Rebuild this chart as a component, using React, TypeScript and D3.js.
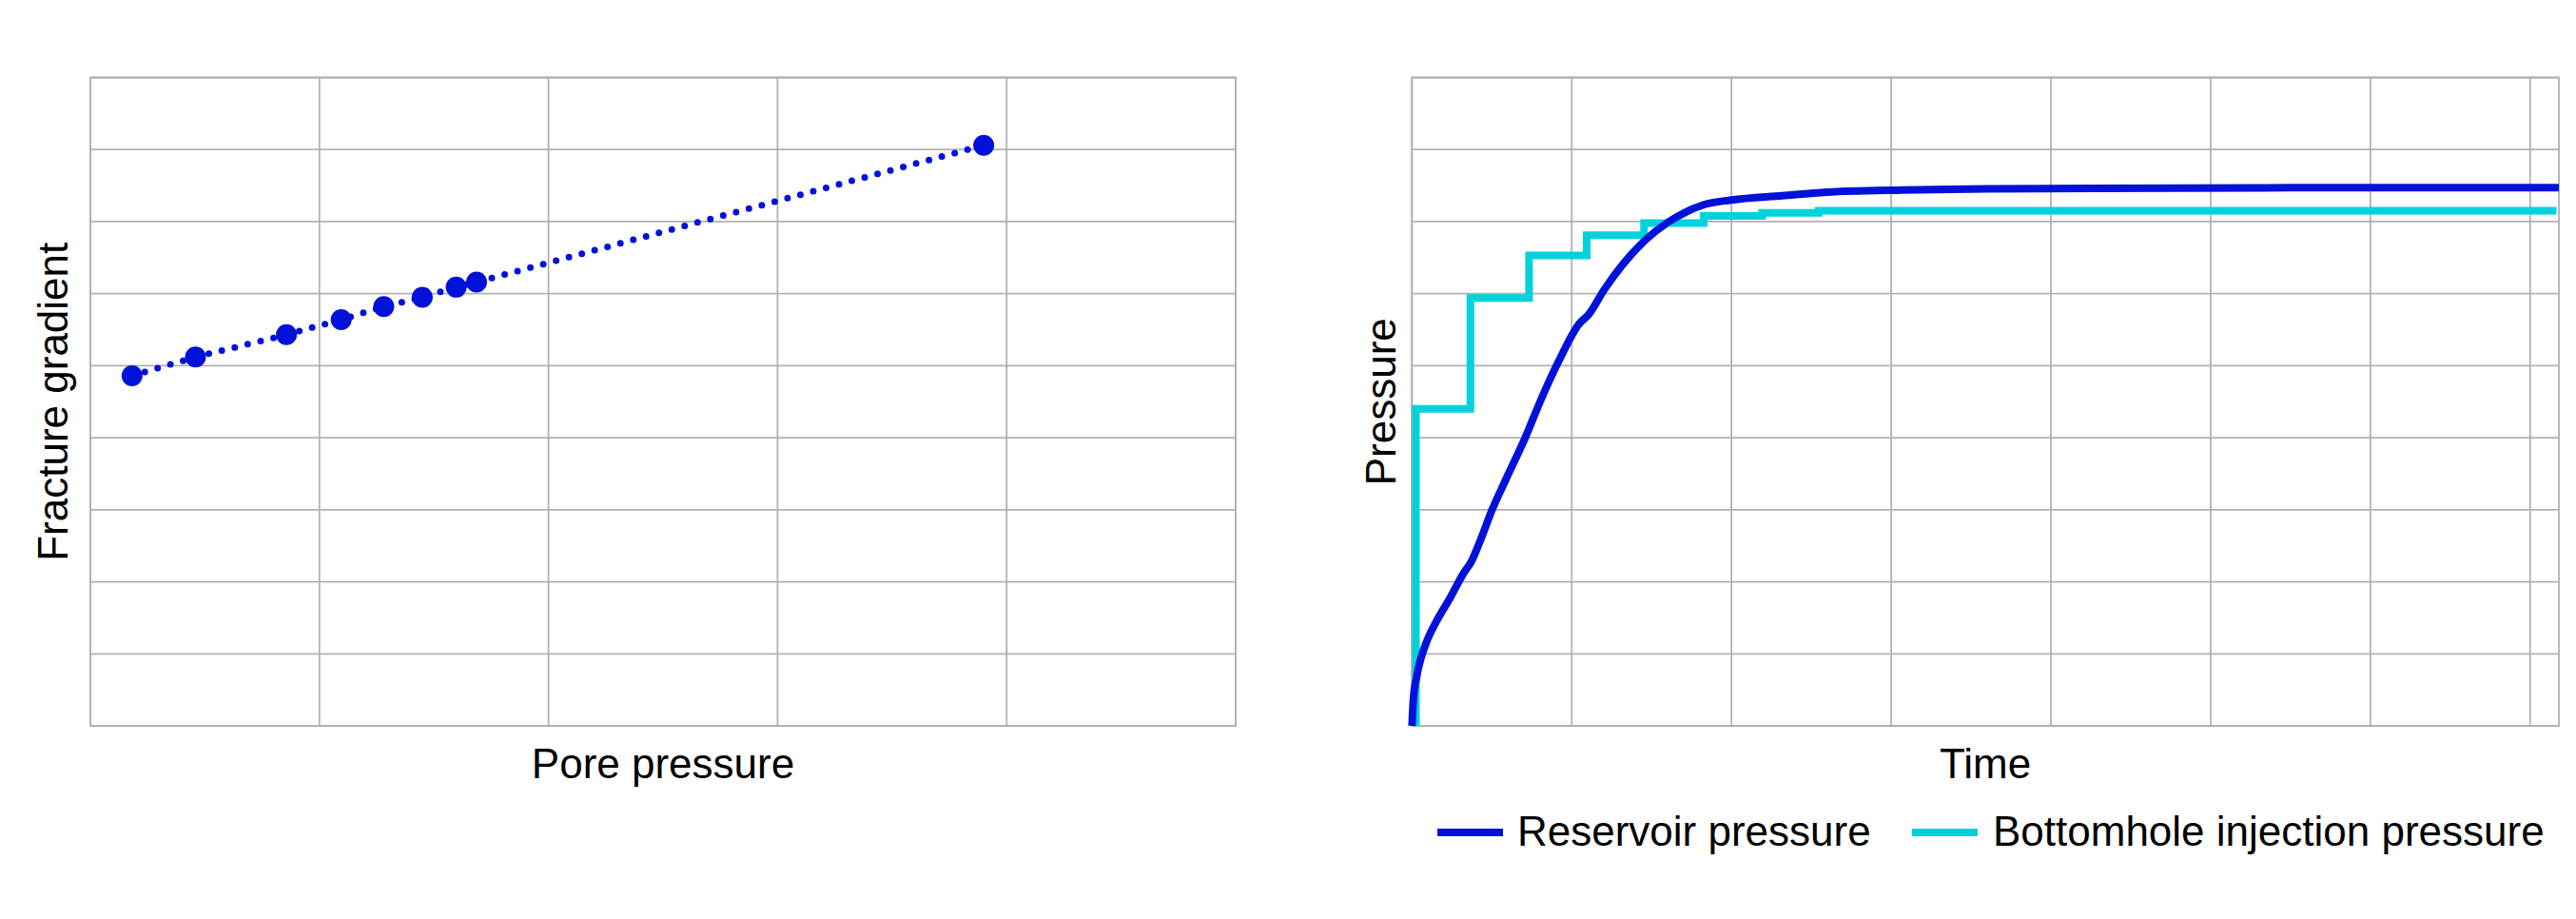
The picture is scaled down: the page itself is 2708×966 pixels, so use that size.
import React from 'react';
import * as d3 from 'd3';

// Left panel: fracture gradient vs pore pressure (arbitrary units)
const porePressure = [0.182, 0.459, 0.856, 1.095, 1.281, 1.449, 1.597, 1.686, 3.9];
const fractureGradient = [4.86, 5.12, 5.43, 5.64, 5.82, 5.95, 6.09, 6.16, 8.06];

// Right panel: reservoir pressure over time
const reservoirTime = [
    0, 0.01, 0.025, 0.054, 0.094, 0.153, 0.232, 0.332, 0.367, 0.431, 0.5, 0.59, 0.709, 0.808,
    0.927, 1.046, 1.106, 1.205, 1.325, 1.464, 1.602, 1.721, 1.821, 1.999, 2.317, 2.595, 3.07,
    3.6, 4.26, 5.5, 7.18,
];
const reservoirPressure = [
    0, 0.4, 0.63, 0.92, 1.18, 1.45, 1.75, 2.15, 2.26, 2.59, 2.99, 3.43, 4.0, 4.53, 5.1, 5.58,
    5.71, 6.06, 6.42, 6.75, 6.99, 7.14, 7.23, 7.3, 7.36, 7.41, 7.44, 7.455, 7.46, 7.47, 7.47,
];

// Bottomhole injection pressure (step-wise)
const injectionTime = [0.025, 0.025, 0.366, 0.733, 1.094, 1.453, 1.827, 2.192, 2.546, 7.165];
const injectionPressure = [0, 4.4, 5.94, 6.53, 6.81, 6.98, 7.08, 7.12, 7.15, 7.15];

const yGridValues = [0, 1, 2, 3, 4, 5, 6, 7, 8, 9];
const leftXGridValues = [0, 1, 2, 3, 4, 5];
const rightXGridValues = [0, 1, 2, 3, 4, 5, 6, 7];

const legendItems = [
    { label: 'Reservoir pressure', color: '#0012d9' },
    { label: 'Bottomhole injection pressure', color: '#00d2dc' },
];

const W = 2708;
const H = 966;
const TOP = 81.5;
const BOTTOM = 763;
const GRID = '#b1b1b1';
const BLUE = '#0012d9';
const CYAN = '#00d2dc';
const FONT = '"Liberation Sans", Arial, sans-serif';

export default function App() {
    const yScale = d3.scaleLinear().domain([0, 9]).range([BOTTOM, TOP]);

    // left panel scales
    const xLeft = d3.scaleLinear().domain([0, 5]).range([95, 1299]);
    const leftPts = porePressure.map((p, i) => [p, fractureGradient[i]] as [number, number]);
    const leftLine = d3
        .line<[number, number]>()
        .x((d) => xLeft(d[0]))
        .y((d) => yScale(d[1]));

    // right panel scales
    const xRight = d3.scaleLinear().domain([0, 7.18]).range([1484.3, 2690]);
    const resPts = reservoirTime.map((t, i) => [t, reservoirPressure[i]] as [number, number]);
    const injPts = injectionTime.map((t, i) => [t, injectionPressure[i]] as [number, number]);
    const resLine = d3
        .line<[number, number]>()
        .x((d) => xRight(d[0]))
        .y((d) => yScale(d[1]))
        .curve(d3.curveMonotoneX);
    const injLine = d3
        .line<[number, number]>()
        .x((d) => xRight(d[0]))
        .y((d) => yScale(d[1]))
        .curve(d3.curveStepAfter);

    const grid = (x: d3.ScaleLinear<number, number>, xs: number[]) => (
        <g>
            {yGridValues.map((v) => (
                <line
                    key={'h' + v}
                    x1={x.range()[0]}
                    x2={x.range()[1]}
                    y1={yScale(v)}
                    y2={yScale(v)}
                    stroke={GRID}
                    strokeWidth={1.8}
                />
            ))}
            {xs.map((v) => (
                <line
                    key={'v' + v}
                    x1={x(v)}
                    x2={x(v)}
                    y1={TOP}
                    y2={BOTTOM}
                    stroke={GRID}
                    strokeWidth={1.8}
                />
            ))}
            <rect
                x={x.range()[0]}
                y={TOP}
                width={x.range()[1] - x.range()[0]}
                height={BOTTOM - TOP}
                fill="none"
                stroke={GRID}
                strokeWidth={1.8}
            />
        </g>
    );

    return (
        <div style={{ position: 'absolute', left: 0, top: 0, width: W, height: H, background: '#fff' }}>
            <svg width={W} height={H} viewBox={`0 0 ${W} ${H}`} style={{ display: 'block' }}>
                <rect width={W} height={H} fill="#fff" />

                {/* Left panel */}
                {grid(xLeft, leftXGridValues)}
                <path
                    d={leftLine(leftPts) ?? ''}
                    fill="none"
                    stroke={BLUE}
                    strokeWidth={7}
                    strokeDasharray="0 14"
                    strokeLinecap="round"
                />
                {leftPts.map((d, i) => (
                    <circle key={i} cx={xLeft(d[0])} cy={yScale(d[1])} r={11} fill={BLUE} />
                ))}
                <text
                    x={(xLeft.range()[0] + xLeft.range()[1]) / 2}
                    y={818}
                    textAnchor="middle"
                    fontFamily={FONT}
                    fontSize={44}
                    fill="#000"
                >
                    Pore pressure
                </text>
                <text
                    transform={`translate(71,${(TOP + BOTTOM) / 2}) rotate(-90)`}
                    textAnchor="middle"
                    fontFamily={FONT}
                    fontSize={44}
                    fill="#000"
                >
                    Fracture gradient
                </text>

                {/* Right panel */}
                {grid(xRight, rightXGridValues)}
                <path d={injLine(injPts) ?? ''} fill="none" stroke={CYAN} strokeWidth={8} />
                <path d={resLine(resPts) ?? ''} fill="none" stroke={BLUE} strokeWidth={8} />
                <text
                    x={(xRight.range()[0] + xRight.range()[1]) / 2}
                    y={818}
                    textAnchor="middle"
                    fontFamily={FONT}
                    fontSize={44}
                    fill="#000"
                >
                    Time
                </text>
                <text
                    transform={`translate(1467,${(TOP + BOTTOM) / 2}) rotate(-90)`}
                    textAnchor="middle"
                    fontFamily={FONT}
                    fontSize={44}
                    fill="#000"
                >
                    Pressure
                </text>

                {/* Legend */}
                <g fontFamily={FONT} fontSize={44}>
                    <line x1={1511} x2={1580} y1={875} y2={875} stroke={legendItems[0].color} strokeWidth={8} />
                    <text x={1595} y={889} fill="#000">
                        {legendItems[0].label}
                    </text>
                    <line x1={2010} x2={2079} y1={875} y2={875} stroke={legendItems[1].color} strokeWidth={8} />
                    <text x={2095} y={889} fill="#000">
                        {legendItems[1].label}
                    </text>
                </g>
            </svg>
        </div>
    );
}
